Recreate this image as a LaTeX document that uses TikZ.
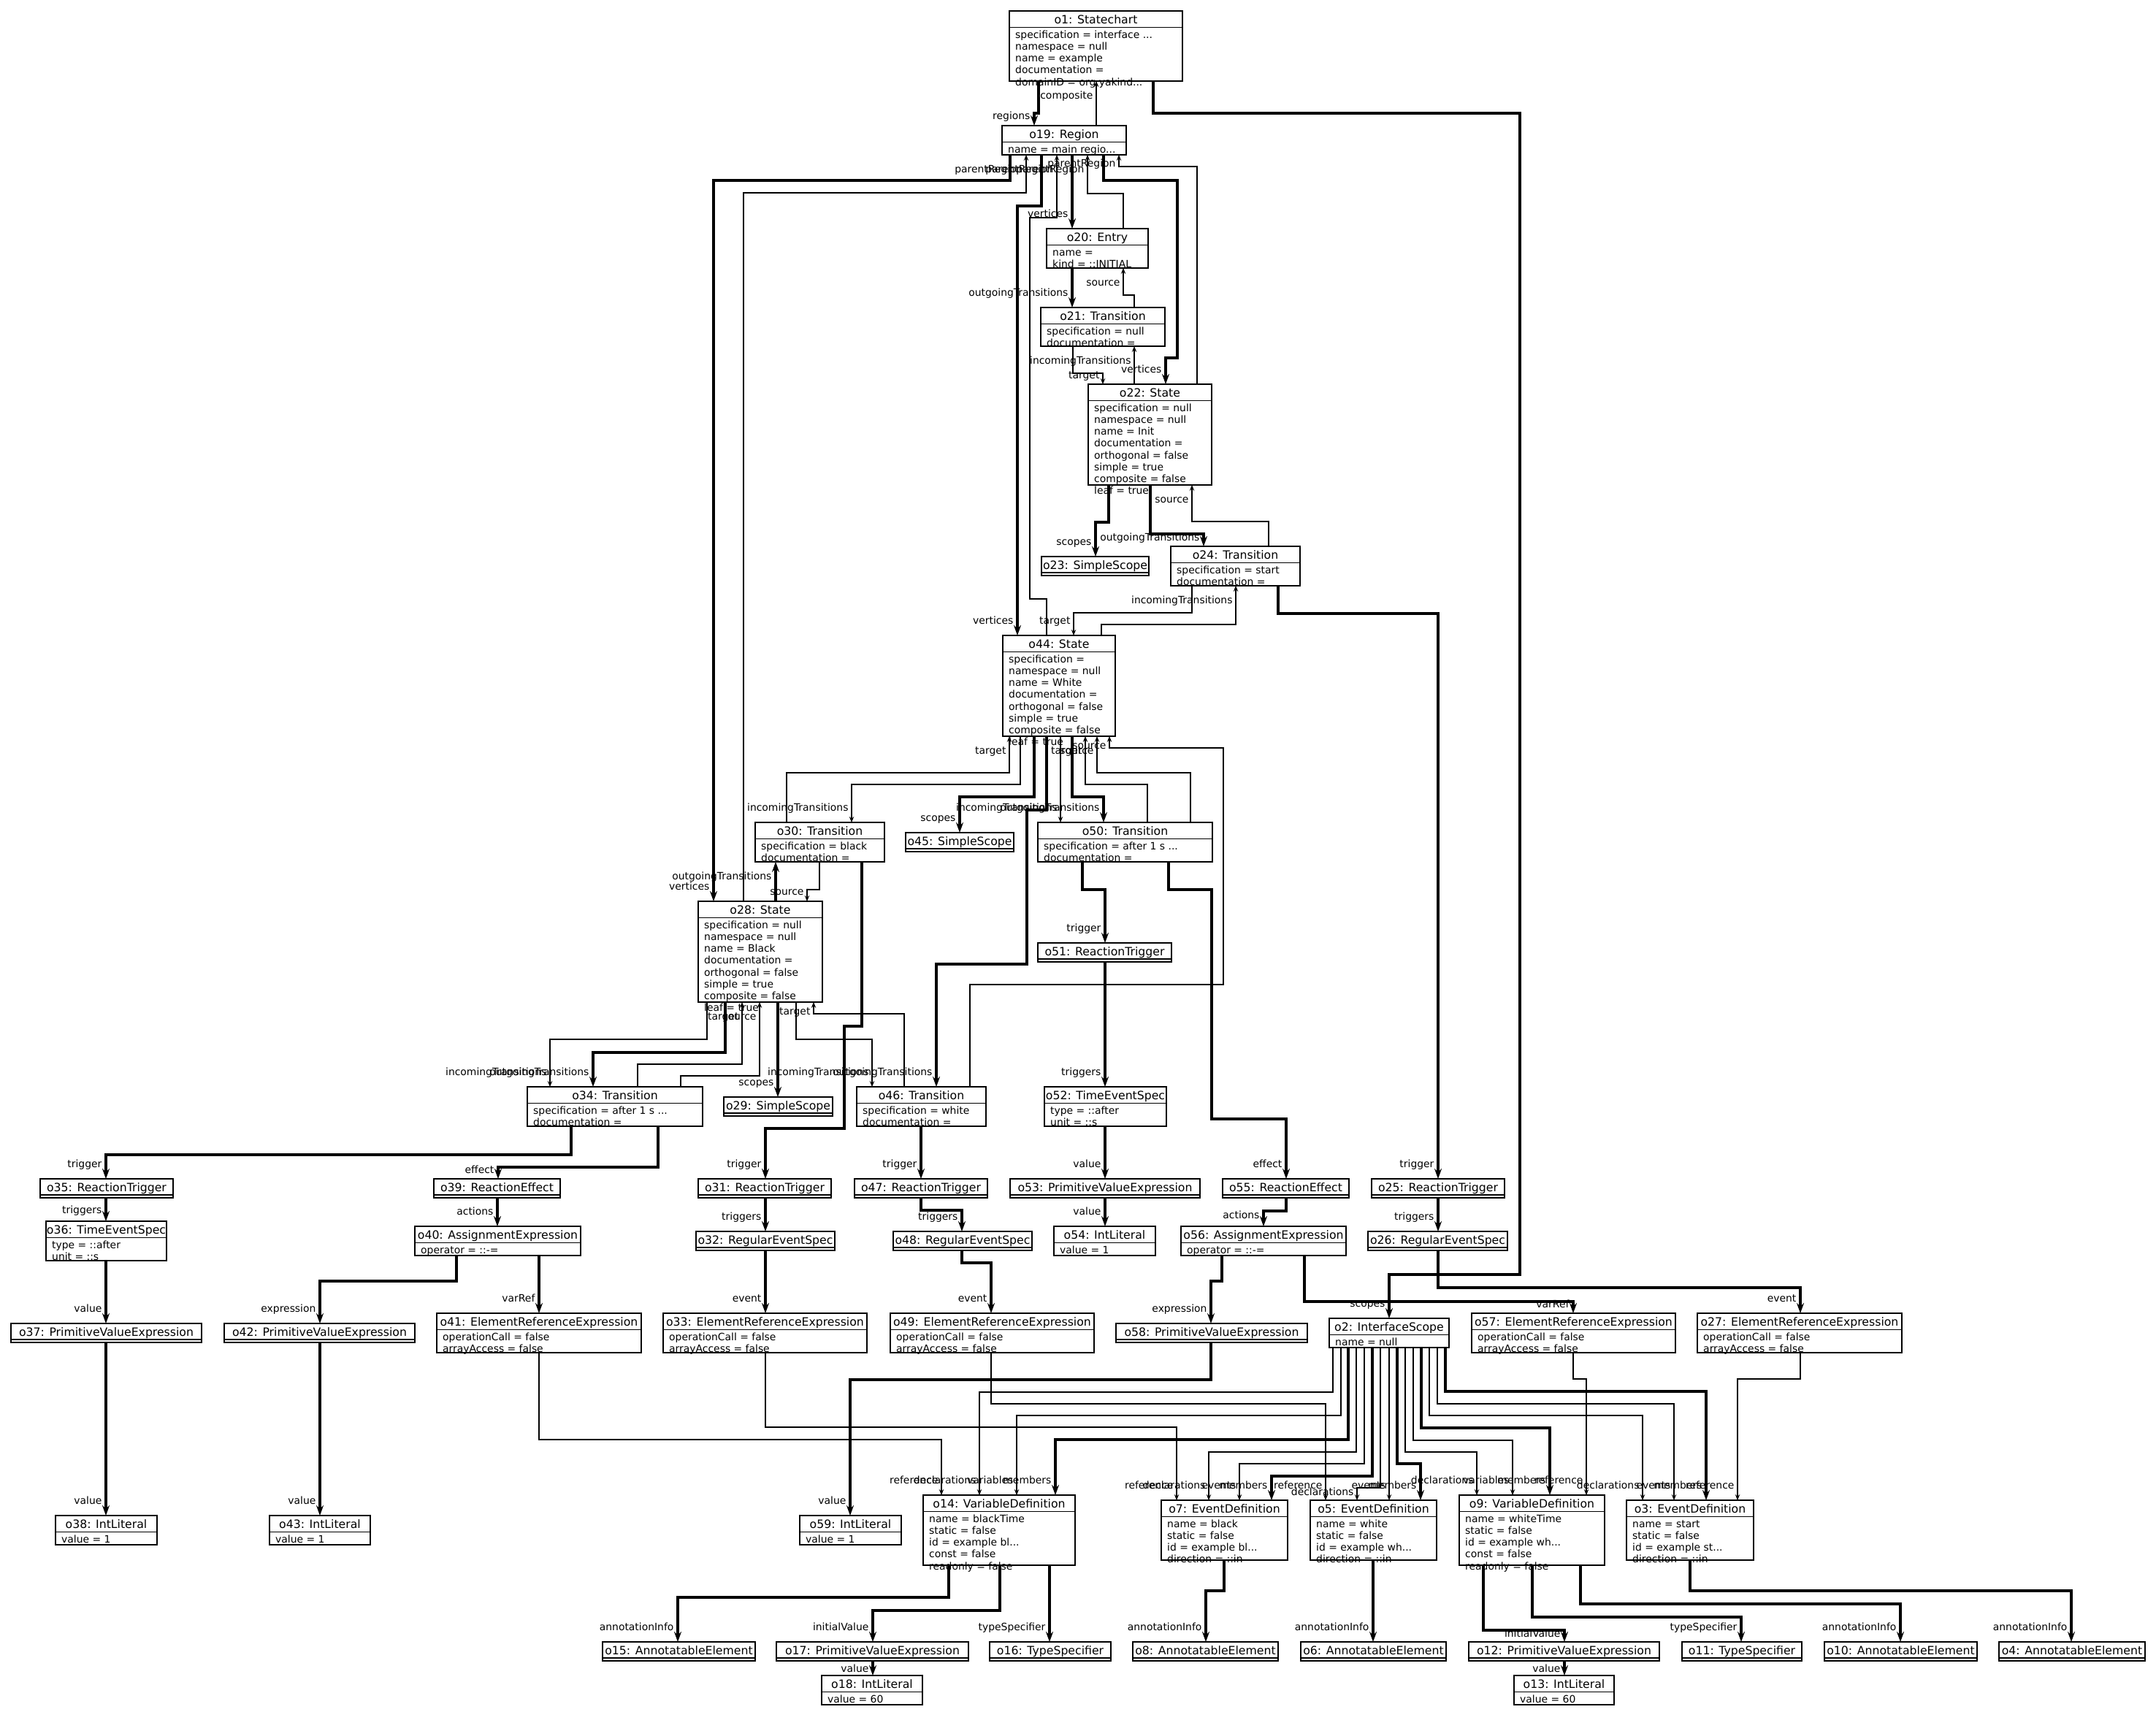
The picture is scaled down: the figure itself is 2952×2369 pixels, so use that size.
\documentclass[tikz,border=0pt]{standalone}
\usepackage{fontspec}
\setmainfont{DejaVu Sans}
\usetikzlibrary{arrows.meta}
\newcommand{\ttlfont}{\fontsize{15.7}{18}\selectfont}
\newcommand{\attrfont}{\fontsize{13.9}{16.2}\selectfont}
\newcommand{\objbox}[7]{%
 \node[objframe, minimum width={#4-#2}, minimum height={#5-#3}] (#1) at (#2,#3) {};%
 \draw[boxline] ([yshift=-22.5pt]#1.north west) -- ([yshift=-22.5pt]#1.north east);%
 \node[objtitle] (#1-t) at ([yshift=-17pt]#1.north) {#6};%
 \node[objattr] (#1-a) at ([xshift=8pt,yshift=-25.8pt]#1.north west) {\strut #7};%
}
\newcommand{\objplain}[5]{%
 \node[objframe, minimum width={#4-#2}, minimum height=26pt] (#1) at (#2,#3) {};%
 \draw[boxline] ([yshift=-22pt]#1.north west) -- ([yshift=-22pt]#1.north east);%
 \node[objtitle] (#1-t) at ([yshift=-17pt]#1.north) {#5};%
}
\tikzset{
 objframe/.style={draw, line width=1.2pt, inner sep=0pt, outer sep=0pt, anchor=north west},
 boxline/.style={line width=1.2pt},
 objtitle/.style={font=\ttlfont, inner sep=0pt, anchor=base},
 objattr/.style={font=\attrfont, inner sep=0pt, anchor=north west, align=left},
 comp/.style={line width=3.2pt, -{Stealth[length=14pt,width=10pt,inset=5pt]}},
 ref/.style={line width=1.1pt, -{Stealth[length=8pt,width=6.5pt,inset=3pt]}},
 lbl/.style={font=\attrfont, inner sep=0pt},
 lbD/.style={lbl, anchor=base east, xshift=-4pt, yshift=15.5pt},
 lbU/.style={lbl, anchor=base east, xshift=-4pt, yshift=-24.5pt}
}
\begin{document}
\begin{tikzpicture}[x=1pt, y=-1pt]
\useasboundingbox (0,0) rectangle (2952,2369);

\objbox{o1}{1382}{15}{1619}{111}{o1: Statechart}{specification = interface ...\\namespace = null\\name = example\\documentation =\\domainID = org.yakind...}
\objbox{o19}{1372}{172}{1542}{212}{o19: Region}{name = main regio...}
\objbox{o20}{1433}{313}{1572}{367}{o20: Entry}{name =\\kind = ::INITIAL}
\objbox{o21}{1425}{421}{1595}{474}{o21: Transition}{specification = null\\documentation =}
\objbox{o22}{1490}{526}{1659}{664}{o22: State}{specification = null\\namespace = null\\name = Init\\documentation =\\orthogonal = false\\simple = true\\composite = false\\leaf = true}
\objplain{o23}{1426}{762}{1573}{o23: SimpleScope}
\objbox{o24}{1603}{748}{1780}{802}{o24: Transition}{specification = start\\documentation =}
\objbox{o44}{1373}{870}{1527}{1008}{o44: State}{specification =\\namespace = null\\name = White\\documentation =\\orthogonal = false\\simple = true\\composite = false\\leaf = true}
\objbox{o30}{1034}{1126}{1211}{1180}{o30: Transition}{specification = black\\documentation =}
\objplain{o45}{1240}{1140}{1388}{o45: SimpleScope}
\objbox{o50}{1421}{1126}{1660}{1180}{o50: Transition}{specification = after 1 s ...\\documentation =}
\objbox{o28}{956}{1234}{1126}{1372}{o28: State}{specification = null\\namespace = null\\name = Black\\documentation =\\orthogonal = false\\simple = true\\composite = false\\leaf = true}
\objplain{o51}{1421}{1291}{1604}{o51: ReactionTrigger}
\objbox{o34}{722}{1488}{962}{1542}{o34: Transition}{specification = after 1 s ...\\documentation =}
\objplain{o29}{991}{1502}{1140}{o29: SimpleScope}
\objbox{o46}{1173}{1488}{1350}{1542}{o46: Transition}{specification = white\\documentation =}
\objbox{o52}{1430}{1488}{1597}{1542}{o52: TimeEventSpec}{type = ::after\\unit = ::s}
\objplain{o35}{55}{1614}{237}{o35: ReactionTrigger}
\objplain{o39}{594}{1614}{767}{o39: ReactionEffect}
\objplain{o31}{956}{1614}{1138}{o31: ReactionTrigger}
\objplain{o47}{1170}{1614}{1352}{o47: ReactionTrigger}
\objplain{o53}{1383}{1614}{1643}{o53: PrimitiveValueExpression}
\objplain{o55}{1674}{1614}{1847}{o55: ReactionEffect}
\objplain{o25}{1878}{1614}{2060}{o25: ReactionTrigger}
\objbox{o36}{63}{1672}{228}{1726}{o36: TimeEventSpec}{type = ::after\\unit = ::s}
\objbox{o40}{568}{1679}{795}{1719}{o40: AssignmentExpression}{operator = ::-=}
\objplain{o32}{953}{1686}{1143}{o32: RegularEventSpec}
\objplain{o48}{1223}{1686}{1413}{o48: RegularEventSpec}
\objbox{o54}{1443}{1679}{1582}{1719}{o54: IntLiteral}{value = 1}
\objbox{o56}{1617}{1679}{1843}{1719}{o56: AssignmentExpression}{operator = ::-=}
\objplain{o26}{1873}{1686}{2064}{o26: RegularEventSpec}
\objplain{o37}{15}{1812}{276}{o37: PrimitiveValueExpression}
\objplain{o42}{307}{1812}{568}{o42: PrimitiveValueExpression}
\objbox{o41}{598}{1798}{878}{1852}{o41: ElementReferenceExpression}{operationCall = false\\arrayAccess = false}
\objbox{o33}{908}{1798}{1187}{1852}{o33: ElementReferenceExpression}{operationCall = false\\arrayAccess = false}
\objbox{o49}{1219}{1798}{1498}{1852}{o49: ElementReferenceExpression}{operationCall = false\\arrayAccess = false}
\objplain{o58}{1528}{1812}{1790}{o58: PrimitiveValueExpression}
\objbox{o2}{1820}{1805}{1984}{1845}{o2: InterfaceScope}{name = null}
\objbox{o57}{2015}{1798}{2294}{1852}{o57: ElementReferenceExpression}{operationCall = false\\arrayAccess = false}
\objbox{o27}{2324}{1798}{2604}{1852}{o27: ElementReferenceExpression}{operationCall = false\\arrayAccess = false}
\objbox{o38}{76}{2075}{215}{2115}{o38: IntLiteral}{value = 1}
\objbox{o43}{369}{2075}{507}{2115}{o43: IntLiteral}{value = 1}
\objbox{o59}{1095}{2075}{1234}{2115}{o59: IntLiteral}{value = 1}
\objbox{o14}{1264}{2047}{1472}{2143}{o14: VariableDefinition}{name = blackTime\\static = false\\id = example bl...\\const = false\\readonly = false}
\objbox{o7}{1590}{2054}{1763}{2136}{o7: EventDefinition}{name = black\\static = false\\id = example bl...\\direction = ::in}
\objbox{o5}{1794}{2054}{1967}{2136}{o5: EventDefinition}{name = white\\static = false\\id = example wh...\\direction = ::in}
\objbox{o9}{1998}{2047}{2197}{2143}{o9: VariableDefinition}{name = whiteTime\\static = false\\id = example wh...\\const = false\\readonly = false}
\objbox{o3}{2227}{2054}{2401}{2136}{o3: EventDefinition}{name = start\\static = false\\id = example st...\\direction = ::in}
\objplain{o15}{825}{2248}{1034}{o15: AnnotatableElement}
\objplain{o17}{1063}{2248}{1326}{o17: PrimitiveValueExpression}
\objplain{o16}{1355}{2248}{1521}{o16: TypeSpecifier}
\objplain{o8}{1551}{2248}{1750}{o8: AnnotatableElement}
\objplain{o6}{1781}{2248}{1980}{o6: AnnotatableElement}
\objplain{o12}{2011}{2248}{2272}{o12: PrimitiveValueExpression}
\objplain{o11}{2303}{2248}{2467}{o11: TypeSpecifier}
\objplain{o10}{2498}{2248}{2707}{o10: AnnotatableElement}
\objplain{o4}{2737}{2248}{2937}{o4: AnnotatableElement}
\objbox{o18}{1125}{2294}{1263}{2334}{o18: IntLiteral}{value = 60}
\objbox{o13}{2073}{2294}{2210}{2334}{o13: IntLiteral}{value = 60}

% containment links
\draw[comp] (o1.south -| 1422,0) -- (1422,155) -| (o19.north -| 1416,0) node[lbD, yshift=-7pt] {regions};
\draw[comp] (o1.south -| 1579,0) |- (2081,155) |- (1902,1745) -- (o2.north -| 1902,0) node[lbD] {scopes};
\draw[comp] (o19.south -| 1383,0) |- (977,247) -- (o28.north -| 977,0) node[lbD] {vertices};
\draw[comp] (o19.south -| 1426,0) |- (1393,282) -- (o44.north -| 1393,0) node[lbD] {vertices};
\draw[comp] (o19.south -| 1468,0) -- (o20.north -| 1468,0) node[lbD] {vertices};
\draw[comp] (o19.south -| 1511,0) |- (1612,247) |- (1596,490) -- (o22.north -| 1596,0) node[lbD] {vertices};
\draw[comp] (o20.south -| 1468,0) -- (o21.north -| 1468,0) node[lbD] {outgoingTransitions};
\draw[comp] (o22.south -| 1518,0) |- (1500,715) -- (o23.north -| 1500,0) node[lbD] {scopes};
\draw[comp] (o22.south -| 1575,0) |- (1648,731) -- (o24.north -| 1648,0) node[lbD, yshift=-8pt] {outgoingTransitions};
\draw[comp] (o24.south -| 1750,0) |- (1969,840) -- (o25.north -| 1969,0) node[lbD] {trigger};
\draw[comp] (o44.south -| 1416,0) |- (1314,1091) -- (o45.north -| 1314,0) node[lbD] {scopes};
\draw[comp] (o44.south -| 1433,0) |- (1406,1109) |- (1282,1320) -- (o46.north -| 1282,0) node[lbD] {outgoingTransitions};
\draw[comp] (o44.south -| 1468,0) |- (1511,1091) -- (o50.north -| 1511,0) node[lbD] {outgoingTransitions};
\draw[comp] (o28.north -| 1062,0) -- (o30.south -| 1062,0) node[lbU] {outgoingTransitions};
\draw[comp] (o30.south -| 1180,0) |- (1156,1405) |- (1048,1545) -- (o31.north -| 1048,0) node[lbD] {trigger};
\draw[comp] (o50.south -| 1482,0) |- (1513,1218) -- (o51.north -| 1513,0) node[lbD] {trigger};
\draw[comp] (o50.south -| 1600,0) |- (1659,1218) |- (1761,1532) -- (o55.north -| 1761,0) node[lbD] {effect};
\draw[comp] (o28.south -| 993,0) |- (812,1441) -- (o34.north -| 812,0) node[lbD] {outgoingTransitions};
\draw[comp] (o28.south -| 1065,0) -- (o29.north -| 1065,0) node[lbD] {scopes};
\draw[comp] (o34.south -| 782,0) |- (145,1581) -- (o35.north -| 145,0) node[lbD] {trigger};
\draw[comp] (o34.south -| 901,0) |- (682,1598) -- (o39.north -| 682,0) node[lbD, yshift=-8pt] {effect};
\draw[comp] (o46.south -| 1261,0) -- (o47.north -| 1261,0) node[lbD] {trigger};
\draw[comp] (o51.south -| 1513,0) -- (o52.north -| 1513,0) node[lbD] {triggers};
\draw[comp] (o52.south -| 1513,0) -- (o53.north -| 1513,0) node[lbD] {value};
\draw[comp] (o53.south -| 1513,0) -- (o54.north -| 1513,0) node[lbD] {value};
\draw[comp] (o55.south -| 1761,0) |- (1730,1658) -- (o56.north -| 1730,0) node[lbD, yshift=-5pt] {actions};
\draw[comp] (o25.south -| 1969,0) -- (o26.north -| 1969,0) node[lbD] {triggers};
\draw[comp] (o35.south -| 145,0) -- (o36.north -| 145,0) node[lbD, yshift=-5pt] {triggers};
\draw[comp] (o36.south -| 145,0) -- (o37.north -| 145,0) node[lbD] {value};
\draw[comp] (o37.south -| 145,0) -- (o38.north -| 145,0) node[lbD] {value};
\draw[comp] (o39.south -| 681,0) -- (o40.north -| 681,0) node[lbD] {actions};
\draw[comp] (o40.south -| 625,0) |- (438,1754) -- (o42.north -| 438,0) node[lbD] {expression};
\draw[comp] (o40.south -| 738,0) -- (o41.north -| 738,0) node[lbD] {varRef};
\draw[comp] (o42.south -| 438,0) -- (o43.north -| 438,0) node[lbD] {value};
\draw[comp] (o31.south -| 1048,0) -- (o32.north -| 1048,0) node[lbD] {triggers};
\draw[comp] (o32.south -| 1048,0) -- (o33.north -| 1048,0) node[lbD] {event};
\draw[comp] (o47.south -| 1261,0) |- (1317,1657) -- (o48.north -| 1317,0) node[lbD] {triggers};
\draw[comp] (o48.south -| 1317,0) |- (1357,1729) -- (o49.north -| 1357,0) node[lbD] {event};
\draw[comp] (o56.south -| 1673,0) |- (1658,1754) -- (o58.north -| 1658,0) node[lbD] {expression};
\draw[comp] (o56.south -| 1786,0) |- (2154,1782) -- (o57.north -| 2154,0) node[lbD, yshift=-8pt] {varRef};
\draw[comp] (o26.south -| 1969,0) |- (2465,1763) -- (o27.north -| 2465,0) node[lbD] {event};
\draw[comp] (o58.south -| 1658,0) |- (1164,1889) -- (o59.north -| 1164,0) node[lbD] {value};
\draw[comp] (o2.south -| 1846,0) |- (1445,1971) -- (o14.north -| 1445,0) node[lbD] {members};
\draw[comp] (o2.south -| 1879,0) |- (1741,2021) -- (o7.north -| 1741,0) node[lbD] {members};
\draw[comp] (o2.south -| 1913,0) |- (1945,2004) -- (o5.north -| 1945,0) node[lbD] {members};
\draw[comp] (o2.south -| 1946,0) |- (2122,1955) -- (o9.north -| 2122,0) node[lbD] {members};
\draw[comp] (o2.south -| 1979,0) |- (2336,1905) -- (o3.north -| 2336,0) node[lbD] {members};
\draw[comp] (o14.south -| 1299,0) |- (928,2187) -- (o15.north -| 928,0) node[lbD] {annotationInfo};
\draw[comp] (o14.south -| 1369,0) |- (1195,2205) -- (o17.north -| 1195,0) node[lbD] {initialValue};
\draw[comp] (o14.south -| 1437,0) -- (o16.north -| 1437,0) node[lbD] {typeSpecifier};
\draw[comp] (o17.south -| 1195,0) -- (o18.north -| 1195,0) node[lbD, yshift=-11pt] {value};
\draw[comp] (o7.south -| 1676,0) |- (1651,2178) -- (o8.north -| 1651,0) node[lbD] {annotationInfo};
\draw[comp] (o5.south -| 1880,0) -- (o6.north -| 1880,0) node[lbD] {annotationInfo};
\draw[comp] (o9.south -| 2031,0) |- (2142,2232) -- (o12.north -| 2142,0) node[lbD, yshift=-9pt] {initialValue};
\draw[comp] (o9.south -| 2098,0) |- (2384,2214) -- (o11.north -| 2384,0) node[lbD] {typeSpecifier};
\draw[comp] (o9.south -| 2164,0) |- (2602,2196) -- (o10.north -| 2602,0) node[lbD] {annotationInfo};
\draw[comp] (o3.south -| 2314,0) |- (2836,2178) -- (o4.north -| 2836,0) node[lbD] {annotationInfo};
\draw[comp] (o12.south -| 2142,0) -- (o13.north -| 2142,0) node[lbD, yshift=-11pt] {value};

% reference links
\draw[ref] (o19.north -| 1501,0) -- (o1.south -| 1501,0) node[lbU] {composite};
\draw[ref] (o28.north -| 1018,0) |- (1405,264) -- (o19.south -| 1405,0) node[lbU] {parentRegion};
\draw[ref] (o44.north -| 1433,0) |- (1410,820) |- (1447,298) -- (o19.south -| 1447,0) node[lbU] {parentRegion};
\draw[ref] (o20.north -| 1538,0) |- (1489,265) -- (o19.south -| 1489,0) node[lbU] {parentRegion};
\draw[ref] (o22.north -| 1639,0) |- (1532,228) -- (o19.south -| 1532,0) node[lbU, yshift=8pt] {parentRegion};
\draw[ref] (o21.north -| 1553,0) |- (1538,404) -- (o20.south -| 1538,0) node[lbU] {source};
\draw[ref] (o21.south -| 1469,0) |- (1510,511) -- (o22.north -| 1510,0) node[lbD, yshift=-8pt] {target};
\draw[ref] (o22.north -| 1553,0) -- (o21.south -| 1553,0) node[lbU] {incomingTransitions};
\draw[ref] (o24.north -| 1737,0) |- (1632,714) -- (o22.south -| 1632,0) node[lbU] {source};
\draw[ref] (o24.south -| 1632,0) |- (1470,839) -- (o44.north -| 1470,0) node[lbD] {target};
\draw[ref] (o44.north -| 1508,0) |- (1692,855) -- (o24.south -| 1692,0) node[lbU] {incomingTransitions};
\draw[ref] (o30.north -| 1077,0) |- (1382,1058) -- (o44.south -| 1382,0) node[lbU] {target};
\draw[ref] (o44.south -| 1397,0) |- (1166,1074) -- (o30.north -| 1166,0) node[lbD] {incomingTransitions};
\draw[ref] (o44.south -| 1452,0) -- (o50.north -| 1452,0) node[lbD] {incomingTransitions};
\draw[ref] (o50.north -| 1571,0) |- (1486,1074) -- (o44.south -| 1486,0) node[lbU] {target};
\draw[ref] (o50.north -| 1630,0) |- (1502,1058) -- (o44.south -| 1502,0) node[lbU] {source};
\draw[ref] (o46.north -| 1328,0) |- (1675,1348) |- (1519,1024) -- (o44.south -| 1519,0) node[lbU, yshift=7pt] {source};
\draw[ref] (o30.south -| 1122,0) |- (1105,1218) -- (o28.north -| 1105,0) node[lbD, yshift=-7pt] {source};
\draw[ref] (o28.south -| 968,0) |- (753,1423) -- (o34.north -| 753,0) node[lbD] {incomingTransitions};
\draw[ref] (o34.north -| 873,0) |- (1016,1457) -- (o28.south -| 1016,0) node[lbU] {target};
\draw[ref] (o34.north -| 932,0) |- (1040,1473) -- (o28.south -| 1040,0) node[lbU] {source};
\draw[ref] (o28.south -| 1090,0) |- (1194,1423) -- (o46.north -| 1194,0) node[lbD] {incomingTransitions};
\draw[ref] (o46.north -| 1238,0) |- (1114,1388) -- (o28.south -| 1114,0) node[lbU, yshift=7pt] {target};
\draw[ref] (o41.south -| 738,0) |- (1289,1971) -- (o14.north -| 1289,0) node[lbD] {reference};
\draw[ref] (o33.south -| 1048,0) |- (1611,1954) -- (o7.north -| 1611,0) node[lbD] {reference};
\draw[ref] (o49.south -| 1357,0) |- (1815,1922) -- (o5.north -| 1815,0) node[lbD] {reference};
\draw[ref] (o57.south -| 2154,0) |- (2172,1888) -- (o9.north -| 2172,0) node[lbD] {reference};
\draw[ref] (o27.south -| 2465,0) |- (2379,1888) -- (o3.north -| 2379,0) node[lbD] {reference};
\draw[ref] (o2.south -| 1825,0) |- (1341,1906) -- (o14.north -| 1341,0) node[lbD] {declarations};
\draw[ref] (o2.south -| 1836,0) |- (1392,1938) -- (o14.north -| 1392,0) node[lbD] {variables};
\draw[ref] (o2.south -| 1857,0) |- (1655,1988) -- (o7.north -| 1655,0) node[lbD] {declarations};
\draw[ref] (o2.south -| 1868,0) |- (1697,2004) -- (o7.north -| 1697,0) node[lbD] {events};
\draw[ref] (o2.south -| 1890,0) |- (1858,2037) -- (o5.north -| 1858,0) node[lbD, yshift=-9pt] {declarations};
\draw[ref] (o2.south -| 1902,0) -- (o5.north -| 1902,0) node[lbD] {events};
\draw[ref] (o2.south -| 1924,0) |- (2022,1988) -- (o9.north -| 2022,0) node[lbD] {declarations};
\draw[ref] (o2.south -| 1935,0) |- (2071,1972) -- (o9.north -| 2071,0) node[lbD] {variables};
\draw[ref] (o2.south -| 1957,0) |- (2249,1938) -- (o3.north -| 2249,0) node[lbD] {declarations};
\draw[ref] (o2.south -| 1968,0) |- (2292,1922) -- (o3.north -| 2292,0) node[lbD] {events};
\end{tikzpicture}
\end{document}
